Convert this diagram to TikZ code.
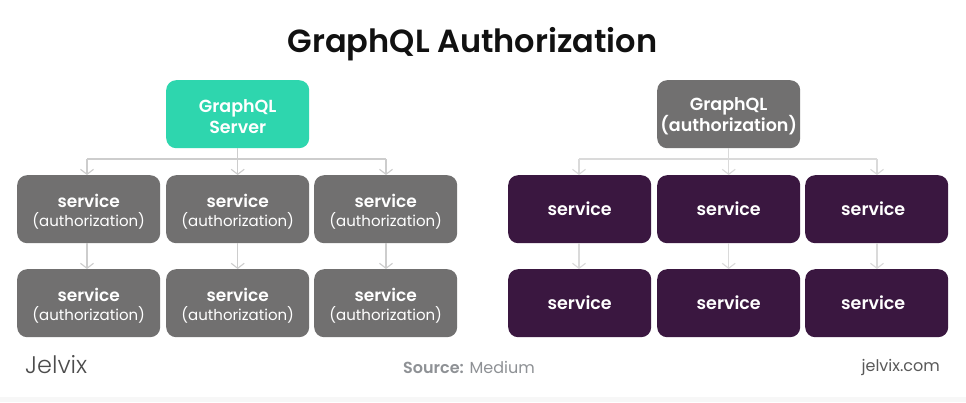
\documentclass[tikz,border=0pt]{standalone}
\usepackage{fontspec}
\setmainfont{Poppins}[BoldFont=* SemiBold]
\newfontfamily\lightf{Poppins}[UprightFont=* Light]
\definecolor{teal1}{HTML}{2ED6AE}
\definecolor{gray1}{HTML}{717070}
\definecolor{plum1}{HTML}{3A1740}
\definecolor{conn}{HTML}{CDCDCD}
\definecolor{connr}{HTML}{DADADA}
\definecolor{titlec}{HTML}{111111}
\definecolor{foot}{HTML}{8E9195}
\usetikzlibrary{arrows.meta,calc}
\tikzset{
  x=1pt,y=-1pt,
  boxn/.style={rounded corners=10pt,minimum width=143pt,minimum height=68pt,inner sep=0pt,text=white,align=center,anchor=north west,font=\fontsize{17.5}{21}\selectfont\bfseries},
  tealbox/.style={boxn,fill=teal1},
  graybox/.style={boxn,fill=gray1},
  plumbox/.style={boxn,fill=plum1},
  conline/.style={draw=conn,line width=1.3pt},
  conarrow/.style={conline,-{Straight Barb[length=5pt,width=13pt,line width=1.1pt]}},
  conliner/.style={draw=connr,line width=1.3pt},
  conarrowr/.style={conliner,-{Straight Barb[length=5pt,width=13pt,line width=1.1pt]}},
}
\newcommand{\topsp}{\rule{0pt}{18pt}}
\newcommand{\svcauth}{\topsp{\fontsize{17}{20}\selectfont service}\\[-2pt]{\fontsize{15}{18}\selectfont\mdseries (authorization)}}
\begin{document}
\begin{tikzpicture}
\useasboundingbox (0,0) rectangle (966,402);
\fill[white] (0,0) rectangle (966,402);
\fill[black!3] (0,397) rectangle (966,402);
\node[font=\fontsize{32}{38}\selectfont\bfseries,text=titlec] (title) at (472.5,44) {GraphQL Authorization};

\node[tealbox] (ls) at (166,80) {\topsp GraphQL\\Server};
\node[graybox] (a1) at (17,175) {\svcauth};
\node[graybox] (a2) at (166,175) {\svcauth};
\node[graybox] (a3) at (314,175) {\svcauth};
\node[graybox] (b1) at (17,269) {\svcauth};
\node[graybox] (b2) at (166,269) {\svcauth};
\node[graybox] (b3) at (314,269) {\svcauth};

\node[graybox] (rs) at (657,80) {\topsp GraphQL\\(authorization)};
\node[plumbox] (c1) at (508,175) {service};
\node[plumbox] (c2) at (657,175) {service};
\node[plumbox] (c3) at (805,175) {service\hspace{7pt}};
\node[plumbox] (d1) at (508,269) {service};
\node[plumbox] (d2) at (657,269) {service};
\node[plumbox] (d3) at (805,269) {service\hspace{7pt}};

\coordinate (lj) at (ls.south |- 0,159);
\coordinate (rj) at (rs.south |- 0,159);
\draw[conarrow] (ls.south) -- (a2.north);
\draw[conarrow] (87,159) -- (87,175);
\draw[conarrow] (386,159) -- (386,175);
\draw[conline] (87,159) -- (lj) -- (386,159);
\draw[conarrow] (87,243) -- (87,269);
\draw[conarrow] (a2.south) -- (b2.north);
\draw[conarrow] (386,243) -- (386,269);

\draw[conarrowr] (rs.south) -- (c2.north);
\draw[conarrowr] (579,159) -- (579,175);
\draw[conarrowr] (877,159) -- (877,175);
\draw[conliner] (579,159) -- (rj) -- (877,159);
\draw[conarrowr] (579,243) -- (579,269);
\draw[conarrowr] (c2.south) -- (d2.north);
\draw[conarrowr] (877,243) -- (877,269);

\node[font=\fontsize{24}{28}\lightf,text=black!70,anchor=west,inner sep=0pt] (logo) at (25,365) {Jelvix};
\node[font=\fontsize{16}{20}\selectfont,text=foot,inner sep=0pt] (src) at (469,367) {\textbf{Source:} Medium};
\node[font=\fontsize{16}{20}\selectfont,text=black!65,anchor=east,inner sep=0pt] (web) at (940,367) {jelvix.com};
\end{tikzpicture}
\end{document}
